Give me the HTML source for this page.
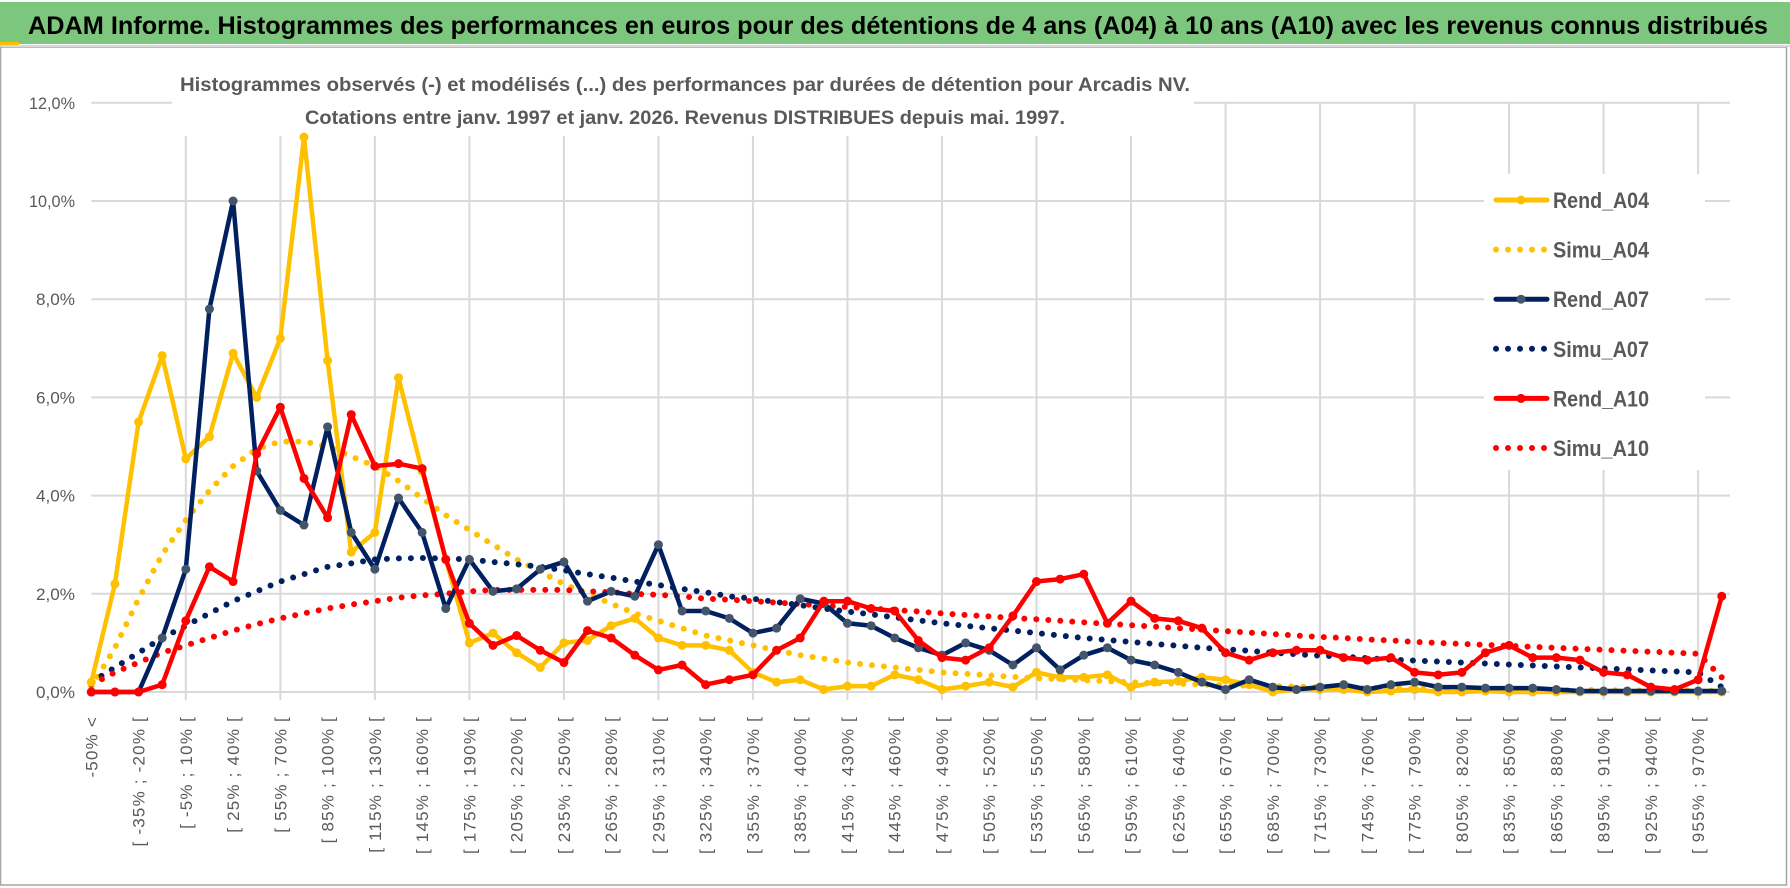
<!DOCTYPE html>
<html><head><meta charset="utf-8"><style>
html,body{margin:0;padding:0;background:#fff;}
svg{display:block;font-family:"Liberation Sans",sans-serif;}
</style></head><body>
<svg id="chart" width="1790" height="888" viewBox="0 0 1790 888" xmlns="http://www.w3.org/2000/svg">
<rect x="0" y="0" width="1790" height="888" fill="#fff"/>
<rect x="0.5" y="47" width="1786" height="838" fill="#fff" stroke="#a6a6a6" stroke-width="1.5"/>
<rect x="0" y="2" width="1790" height="42" fill="#7dc67e"/>
<rect x="0" y="42" width="19" height="3" fill="#ffc000"/>
<rect x="0" y="45" width="1790" height="2" fill="#d9d9d9"/>
<text x="28" y="34" font-size="25" font-weight="bold" fill="#000" textLength="1740" lengthAdjust="spacingAndGlyphs">ADAM Informe. Histogrammes des performances en euros pour des détentions de 4 ans (A04) à 10 ans (A10) avec les revenus connus distribués</text>
<g id="grid"></g>
<g id="yaxis"></g>
<g id="xaxis"></g>
<rect x="172" y="68" width="1022" height="68" fill="#fff"/>
<text x="685" y="91" font-size="19" font-weight="bold" fill="#595959" text-anchor="middle" textLength="1010" lengthAdjust="spacingAndGlyphs">Histogrammes observés (-) et modélisés (...) des performances par durées de détention pour Arcadis NV.</text>
<text x="685" y="124" font-size="19" font-weight="bold" fill="#595959" text-anchor="middle" textLength="760" lengthAdjust="spacingAndGlyphs">Cotations entre janv. 1997 et janv. 2026. Revenus DISTRIBUES depuis mai. 1997.</text>
<g id="series"></g>
<rect x="1484" y="174" width="221" height="296" fill="#fff"/>
<g id="legend"></g>
</svg>
<script>
const categories = (function(){ const c=["-50% <"]; for(let k=1;k<=68;k++){ const a=-50+15*(k-1); c.push("[ "+a+"% ; "+(a+15)+"% ["); } c.push("> 970%"); return c; })();
const yTicks = [0,2,4,6,8,10,12];
const yTickLabels = ["0,0%","2,0%","4,0%","6,0%","8,0%","10,0%","12,0%"];
const rendA04 = [0.2,2.2,5.5,6.85,4.75,5.2,6.9,6.0,7.2,11.3,6.75,2.85,3.25,6.4,4.5,2.7,1.0,1.2,0.8,0.5,1.0,1.05,1.35,1.5,1.1,0.95,0.95,0.85,0.4,0.2,0.25,0.05,0.12,0.12,0.35,0.25,0.05,0.12,0.2,0.1,0.4,0.3,0.3,0.35,0.1,0.2,0.22,0.3,0.25,0.15,0.0,0.05,0.05,0.05,0.0,0.02,0.05,0,0,0.02,0,0,0,0,0,0,0,0,0,0];
const simuA04 = [0.1,0.9,1.9,2.8,3.5,4.1,4.6,4.95,5.1,5.1,5.0,4.8,4.6,4.3,3.95,3.6,3.3,3.0,2.7,2.45,2.2,2.0,1.8,1.6,1.45,1.3,1.15,1.05,0.95,0.85,0.75,0.68,0.6,0.55,0.5,0.45,0.4,0.37,0.34,0.31,0.28,0.26,0.24,0.22,0.2,0.18,0.17,0.15,0.14,0.13,0.12,0.11,0.1,0.09,0.08,0.08,0.07,0.06,0.06,0.05,0.05,0.05,0.04,0.04,0.04,0.03,0.03,0.03,0.03,0.02];
const rendA07 = [0,0,0,1.1,2.5,7.8,10.0,4.5,3.7,3.4,5.4,3.25,2.5,3.95,3.25,1.7,2.7,2.05,2.1,2.5,2.65,1.85,2.05,1.95,3.0,1.65,1.65,1.5,1.2,1.3,1.9,1.8,1.4,1.35,1.1,0.9,0.75,1.0,0.85,0.55,0.9,0.45,0.75,0.9,0.65,0.55,0.4,0.2,0.05,0.25,0.1,0.05,0.1,0.15,0.05,0.15,0.2,0.1,0.1,0.08,0.08,0.08,0.05,0.02,0.02,0.02,0.02,0.02,0.02,0.02];
const simuA07 = [0.2,0.5,0.8,1.1,1.35,1.6,1.85,2.05,2.25,2.4,2.55,2.62,2.7,2.72,2.73,2.72,2.7,2.65,2.6,2.55,2.48,2.4,2.33,2.25,2.18,2.1,2.03,1.95,1.9,1.83,1.77,1.7,1.64,1.58,1.52,1.46,1.4,1.35,1.3,1.25,1.2,1.15,1.1,1.06,1.02,0.98,0.94,0.9,0.87,0.84,0.8,0.77,0.74,0.72,0.69,0.66,0.64,0.62,0.6,0.58,0.56,0.54,0.52,0.5,0.48,0.46,0.44,0.42,0.4,0.1];
const rendA10 = [0,0,0,0.15,1.45,2.55,2.25,4.85,5.8,4.35,3.55,5.65,4.6,4.65,4.55,2.7,1.4,0.95,1.15,0.85,0.6,1.25,1.1,0.75,0.45,0.55,0.15,0.25,0.35,0.85,1.1,1.85,1.85,1.7,1.65,1.05,0.7,0.65,0.9,1.55,2.25,2.3,2.4,1.4,1.85,1.5,1.45,1.3,0.8,0.65,0.8,0.85,0.85,0.7,0.65,0.7,0.4,0.35,0.4,0.8,0.95,0.7,0.7,0.65,0.4,0.35,0.1,0.05,0.25,1.95];
const simuA10 = [0.15,0.4,0.6,0.8,0.95,1.1,1.25,1.38,1.5,1.6,1.7,1.78,1.85,1.92,1.97,2.0,2.05,2.08,2.08,2.08,2.08,2.05,2.03,2.0,1.98,1.95,1.9,1.88,1.85,1.82,1.79,1.76,1.73,1.7,1.67,1.64,1.6,1.57,1.54,1.51,1.48,1.45,1.42,1.39,1.36,1.33,1.3,1.27,1.24,1.21,1.18,1.15,1.12,1.1,1.07,1.05,1.02,1.0,0.98,0.96,0.94,0.92,0.9,0.88,0.86,0.84,0.82,0.8,0.78,0.3];

const NS="http://www.w3.org/2000/svg";
const X0=91.3, STEP=23.63, Y0=692, PER=49.1;
function xs(i){return X0+STEP*i;}
function ys(v){return Y0-PER*v;}
function mk(tag,attrs,parent){const e=document.createElementNS(NS,tag);for(const k in attrs)e.setAttribute(k,attrs[k]);parent.appendChild(e);return e;}

const grid=document.getElementById('grid');
yTicks.forEach(function(t,i){
  const l=mk('line',{x1:X0,x2:1730,y1:ys(t),y2:ys(t),stroke:'#d9d9d9','stroke-width':2},grid);
  
  
});
for(let i=4;i<categories.length;i+=4){
  const l=mk('line',{x1:xs(i),x2:xs(i),y1:ys(12),y2:Y0+8,stroke:'#d9d9d9','stroke-width':2},grid);
  
  
}
const ya=document.getElementById('yaxis');
yTicks.forEach(function(t,i){
  const tx=mk('text',{x:75,y:ys(t)+6,'font-size':17,fill:'#595959','text-anchor':'end',textLength:yTickLabels[i].length>4?46:39,lengthAdjust:'spacingAndGlyphs'},ya);
  tx.textContent=yTickLabels[i];
  
  
});
const xa=document.getElementById('xaxis');
categories.forEach(function(c,i){
  if(i%2!==0)return;
  const x=xs(i)+6, y=716;
  const tx=mk('text',{x:x,y:y,'font-size':17,fill:'#595959','text-anchor':'end','letter-spacing':'1.2',transform:'rotate(-90 '+x+' '+y+')'},xa);
  tx.textContent=c;
  
  
});

const sg=document.getElementById('series');
function pts(arr){return arr.map(function(v,i){return xs(i).toFixed(1)+','+ys(v).toFixed(1);}).join(' ');}
function dotted(arr,color,name){
  const p=mk('polyline',{points:pts(arr),fill:'none',stroke:color,'stroke-width':6,'stroke-linecap':'round','stroke-dasharray':'0 12'},sg);
  
  
}
function solid(arr,color,mcolor,name){
  const p=mk('polyline',{points:pts(arr),fill:'none',stroke:color,'stroke-width':4.5,'stroke-linejoin':'round'},sg);
  
  
  arr.forEach(function(v,i){
    const c=mk('circle',{cx:xs(i),cy:ys(v),r:4.5,fill:mcolor},sg);
    
    
  });
}
dotted(simuA04,'#ffc000','simu-a04-line');
dotted(simuA07,'#002060','simu-a07-line');
dotted(simuA10,'#ff0000','simu-a10-line');
solid(rendA04,'#ffc000','#ffc000','rend-a04-line');
solid(rendA07,'#002060','#44546a','rend-a07-line');
solid(rendA10,'#ff0000','#ff0000','rend-a10-line');

const lg=document.getElementById('legend');
const legendNames=["Rend_A04","Simu_A04","Rend_A07","Simu_A07","Rend_A10","Simu_A10"];
const legendColors=["#ffc000","#ffc000","#002060","#002060","#ff0000","#ff0000"];
const legendMarker=["#ffc000",null,"#44546a",null,"#ff0000",null];
legendNames.forEach(function(n,i){
  const y=200+i*49.6;
  if(legendMarker[i]){
    const l=mk('line',{x1:1496,x2:1547,y1:y,y2:y,stroke:legendColors[i],'stroke-width':5,'stroke-linecap':'round'},lg);
    
    
    const c=mk('circle',{cx:1521,cy:y,r:4.5,fill:legendMarker[i]},lg);
    
    
  } else {
    const l=mk('line',{x1:1496,x2:1547,y1:y,y2:y,stroke:legendColors[i],'stroke-width':6,'stroke-linecap':'round','stroke-dasharray':'0 12'},lg);
    
    
  }
  const t=mk('text',{x:1553,y:y+8,'font-size':22,'font-weight':'bold',fill:'#595959',textLength:96,lengthAdjust:'spacingAndGlyphs'},lg);
  t.textContent=n;
  
  
});
</script>
</body></html>
